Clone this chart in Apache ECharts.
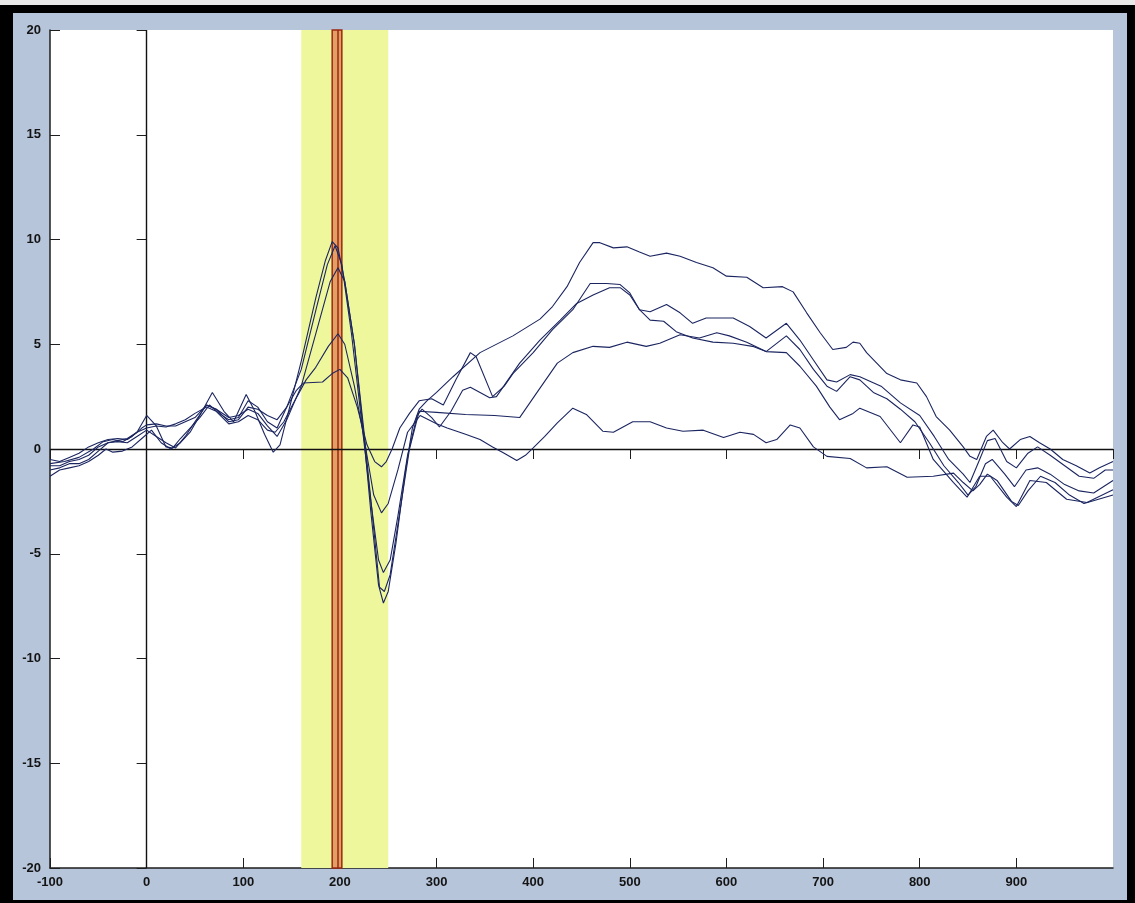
<!DOCTYPE html>
<html>
<head>
<meta charset="utf-8">
<script src="https://cdn.jsdelivr.net/npm/echarts@6/dist/echarts.min.js"></script>
<style>
  html, body { margin: 0; padding: 0; background: #ffffff; }
  #frame { position: absolute; left: 0; top: 0; width: 1135px; height: 903px; background: #000000; }
  #strip { position: absolute; left: 0; top: 0; width: 1135px; height: 5px; background: #e9e9e9; }
  #chart { position: absolute; left: 13px; top: 13px; width: 1114px; height: 887px; background: #b6c5da; }
</style>
</head>
<body>
<div id="frame">
  <div id="strip"></div>
  <div id="chart"></div>
</div>
<script>
// Time axis (ms) and amplitude axis (µV) limits
const xRange = [-100, 1000];
const xStep = 100;
const yRange = [-20, 20];
const yStep = 5;

// Highlighted latency window and marked latency
const windowRange = [160, 250];
const markRange = [192, 202];
const markCentre = 197.5;

// Five averaged waveforms, [time, amplitude]
const wave1 = [[-100,-0.7],[-85,-0.6],[-70,-0.4],[-55,0.0],[-45,0.35],[-35,0.45],[-25,0.35],[-15,0.6],[-5,1.0],[0,1.15],[10,1.2],[20,1.1],[30,1.1],[40,1.3],[50,1.5],[62,2.1],[72,1.9],[85,1.3],[95,1.4],[105,2.0],[115,1.9],[125,1.6],[135,1.4],[145,2.0],[155,2.8],[162,3.15],[182,3.2],[192,3.6],[200,3.8],[208,3.4],[218,2.0],[228,0.2],[236,-0.6],[243,-0.85],[248,-0.6],[254,0],[262,1.0],[272,1.7],[282,2.3],[295,2.4],[307,2.1],[320,3.3],[335,4.6],[341,4.4],[358,2.5],[370,3.0],[379,3.6],[400,4.6],[420,5.7],[441,6.65],[459,7.9],[476,7.9],[490,7.85],[500,7.45],[510,6.65],[521,6.55],[538,6.9],[552,6.5],[565,6.0],[579,6.25],[607,6.25],[624,5.85],[641,5.3],[662,6.0],[676,5.2],[690,4.25],[704,3.3],[714,3.2],[728,3.55],[738,3.45],[760,3.0],[780,2.2],[800,1.6],[815,0.6],[830,-0.5],[845,-1.2],[852,-1.6],[862,-0.5],[870,0.4],[878,0.5],[890,-0.6],[900,-0.9],[912,-0.2],[922,0.1],[935,-0.3],[950,-0.8],[965,-1.3],[980,-1.4],[992,-1.0],[1000,-1.0]];

const wave2 = [[-100,-1.0],[-90,-0.9],[-80,-0.7],[-70,-0.7],[-60,-0.5],[-50,-0.1],[-40,0.3],[-30,0.4],[-20,0.5],[-10,0.8],[0,1.0],[10,1.1],[20,1.05],[30,1.2],[40,1.4],[50,1.7],[62,2.0],[72,1.8],[85,1.2],[95,1.3],[105,1.6],[115,1.4],[125,0.9],[133,0.8],[142,1.3],[152,2.2],[165,3.3],[175,3.9],[188,4.9],[198,5.5],[205,5.0],[215,3.0],[225,0.5],[235,-2.2],[243,-3.05],[250,-2.6],[260,-1.0],[270,0.8],[283,1.6],[300,1.2],[311,1.0],[330,0.7],[345,0.45],[358,0.1],[370,-0.2],[383,-0.55],[392,-0.3],[400,0.05],[412,0.6],[425,1.25],[441,1.95],[455,1.65],[472,0.85],[483,0.8],[503,1.3],[521,1.3],[538,1.0],[555,0.85],[576,0.9],[597,0.55],[614,0.8],[628,0.7],[641,0.3],[652,0.45],[666,1.15],[676,1.0],[690,0.1],[704,-0.35],[728,-0.45],[745,-0.9],[766,-0.85],[787,-1.35],[814,-1.3],[835,-1.15],[845,-1.6],[855,-2.0],[862,-1.7],[870,-1.2],[880,-1.5],[895,-2.5],[902,-2.7],[912,-2.0],[925,-1.3],[940,-1.6],[955,-2.2],[970,-2.6],[985,-2.4],[1000,-2.2]];

const wave3 = [[-100,-1.3],[-90,-1.0],[-80,-0.9],[-70,-0.8],[-60,-0.6],[-50,-0.3],[-42,0.0],[-35,-0.15],[-25,-0.1],[-15,0.1],[-5,0.5],[5,0.9],[15,0.3],[25,0.0],[35,0.3],[45,0.8],[55,1.6],[68,2.7],[80,1.8],[90,1.3],[103,2.6],[112,1.8],[122,0.7],[131,-0.15],[138,0.2],[148,2.0],[160,4.2],[175,7.2],[185,9.0],[192,9.9],[198,9.6],[205,8.0],[215,5.0],[225,0.5],[232,-3.0],[240,-6.5],[245,-7.35],[250,-6.8],[258,-4.5],[268,-1.0],[275,1.0],[282,1.9],[290,2.3],[300,2.7],[317,3.45],[345,4.6],[379,5.4],[407,6.2],[420,6.8],[435,7.75],[448,8.9],[462,9.85],[469,9.85],[483,9.6],[497,9.65],[510,9.4],[521,9.2],[538,9.35],[552,9.2],[569,8.9],[586,8.65],[600,8.25],[621,8.2],[638,7.7],[658,7.75],[669,7.5],[683,6.5],[697,5.55],[710,4.75],[724,4.85],[731,5.1],[738,5.05],[745,4.6],[766,3.6],[780,3.3],[797,3.15],[807,2.5],[817,1.55],[831,0.9],[845,0.1],[852,-0.35],[859,-0.5],[869,0.6],[876,0.9],[886,0.3],[893,0.0],[904,0.45],[914,0.6],[924,0.3],[935,0.0],[948,-0.5],[962,-0.8],[976,-1.15],[986,-0.9],[1000,-0.6]];

const wave4 = [[-100,-0.5],[-90,-0.6],[-80,-0.4],[-70,-0.2],[-60,0.1],[-50,0.3],[-40,0.45],[-30,0.5],[-20,0.45],[-10,0.8],[0,1.6],[10,1.1],[20,0.1],[27,0.05],[35,0.5],[45,1.0],[55,1.5],[65,2.1],[75,1.7],[85,1.4],[95,1.5],[105,2.3],[115,2.0],[125,1.3],[135,1.0],[145,2.0],[160,3.8],[175,6.6],[187,8.8],[195,9.7],[202,8.8],[212,5.5],[222,1.5],[232,-2.5],[240,-5.3],[245,-5.9],[252,-5.3],[260,-3.2],[270,-0.3],[280,1.6],[285,1.9],[295,1.5],[303,1.05],[315,1.8],[327,2.8],[335,2.95],[355,2.45],[362,2.5],[386,4.1],[407,5.2],[428,6.15],[445,6.95],[462,7.35],[479,7.7],[490,7.7],[500,7.35],[510,6.65],[521,6.15],[535,6.1],[548,5.6],[565,5.3],[586,5.1],[607,5.05],[627,4.9],[641,4.65],[662,5.4],[676,4.75],[690,3.8],[704,3.0],[714,2.75],[728,3.45],[738,3.3],[752,2.7],[766,2.4],[780,1.9],[795,1.3],[810,0.3],[825,-0.8],[840,-1.6],[850,-2.2],[858,-1.8],[868,-0.7],[875,-0.5],[888,-1.2],[898,-1.8],[910,-1.0],[922,-0.9],[935,-1.2],[950,-1.7],[965,-2.0],[980,-2.1],[1000,-1.5]];

const wave5 = [[-100,-0.8],[-90,-0.8],[-80,-0.6],[-70,-0.5],[-60,-0.3],[-50,0.1],[-40,0.3],[-30,0.35],[-20,0.3],[-10,0.6],[0,0.9],[10,0.6],[20,0.3],[30,0.05],[40,0.6],[50,1.3],[62,2.1],[72,1.9],[85,1.5],[95,1.6],[105,1.9],[115,1.7],[125,1.1],[135,0.6],[145,1.4],[160,3.0],[178,6.0],[190,8.0],[198,8.65],[205,8.0],[215,5.0],[225,0.8],[235,-3.8],[241,-6.6],[246,-6.8],[252,-6.0],[262,-3.0],[272,0.0],[282,1.8],[300,1.75],[330,1.65],[360,1.6],[386,1.5],[404,2.7],[425,4.1],[441,4.6],[462,4.9],[479,4.85],[497,5.1],[517,4.9],[531,5.05],[552,5.45],[572,5.3],[590,5.55],[603,5.4],[621,5.1],[641,4.65],[662,4.6],[676,3.95],[693,3.0],[707,2.0],[717,1.4],[731,1.7],[738,1.95],[759,1.55],[780,0.3],[793,1.15],[800,1.05],[814,-0.5],[835,-1.6],[849,-2.3],[862,-1.3],[873,-1.3],[890,-2.3],[900,-2.75],[914,-1.5],[931,-1.6],[952,-2.4],[973,-2.55],[1000,-1.95]];

const waves = [wave1, wave2, wave3, wave4, wave5];

const axisInk = '#1e1e1e';
const traceInk = '#1b2560';
const labelFont = { fontFamily: 'Liberation Sans', fontSize: 13, fontWeight: 'bold', color: '#141414' };

const chart = echarts.init(document.getElementById('chart'), null, { renderer: 'canvas' });

const xCommon = { type: 'value', min: xRange[0], max: xRange[1], interval: xStep, splitLine: { show: false } };
const yCommon = { type: 'value', min: yRange[0], max: yRange[1], interval: yStep, splitLine: { show: false } };

const series = [
  {
    // latency window
    type: 'line', data: [], z: 1, silent: true,
    markArea: {
      silent: true,
      itemStyle: { color: '#eff79c' },
      data: [[{ xAxis: windowRange[0] }, { xAxis: windowRange[1] }]]
    }
  },
  {
    // marked latency
    type: 'line', data: [], z: 2, silent: true,
    markArea: {
      silent: true,
      itemStyle: { color: '#e3a064', borderColor: '#9c2812', borderWidth: 1.5 },
      data: [[{ xAxis: markRange[0] }, { xAxis: markRange[1] }]]
    },
    markLine: {
      silent: true, symbol: 'none', label: { show: false },
      lineStyle: { color: '#9c2812', width: 1.5, type: 'solid' },
      data: [{ xAxis: markCentre }]
    }
  },
  {
    // zero reference lines
    type: 'line', data: [], z: 3, silent: true,
    markLine: {
      silent: true, symbol: 'none', label: { show: false },
      lineStyle: { color: '#111111', width: 1.4, type: 'solid' },
      data: [{ xAxis: 0 }, { yAxis: 0 }]
    }
  }
];

waves.forEach(function (w) {
  series.push({
    type: 'line', data: w, z: 5, showSymbol: false, smooth: false, silent: true,
    lineStyle: { color: traceInk, width: 1.1 }
  });
});

chart.setOption({
  animation: false,
  grid: { left: 37, top: 17, width: 1063, height: 838, show: true, backgroundColor: '#ffffff', borderWidth: 0 },
  xAxis: [
    Object.assign({}, xCommon, {
      position: 'bottom',
      axisLine: { show: true, onZero: false, lineStyle: { color: axisInk, width: 1.5 } },
      axisTick: { show: true, inside: true, length: 10, lineStyle: { color: axisInk, width: 1 } },
      axisLabel: Object.assign({
        margin: 8,
        showMaxLabel: false,
        formatter: function (v) { return v >= xRange[1] ? '' : String(v); }
      }, labelFont)
    }),
    Object.assign({}, xCommon, {
      position: 'top',
      axisLine: { show: false },
      axisTick: { show: true, inside: true, length: 10, lineStyle: { color: axisInk, width: 1 } },
      axisLabel: { show: false }
    })
  ],
  yAxis: [
    Object.assign({}, yCommon, {
      position: 'left',
      axisLine: { show: true, onZero: false, lineStyle: { color: axisInk, width: 1.5 } },
      axisTick: { show: true, inside: true, length: 10, lineStyle: { color: axisInk, width: 1 } },
      axisLabel: Object.assign({ margin: 9 }, labelFont)
    }),
    Object.assign({}, yCommon, {
      position: 'right',
      axisLine: { show: false },
      axisTick: { show: true, inside: true, length: 10, lineStyle: { color: axisInk, width: 1 } },
      axisLabel: { show: false }
    })
  ],
  series: series
});
</script>
</body>
</html>
